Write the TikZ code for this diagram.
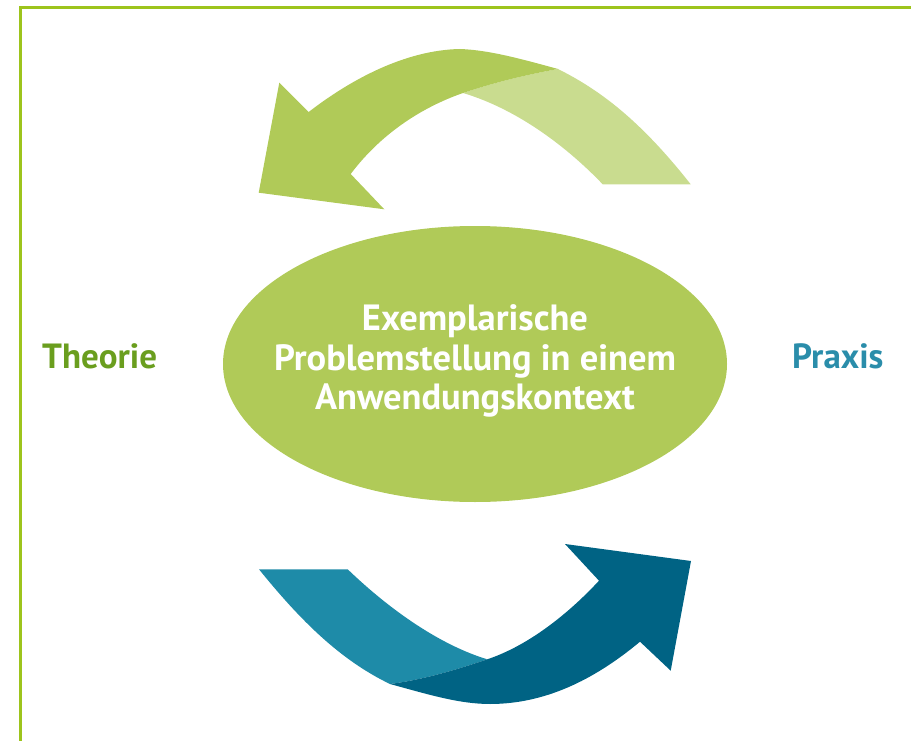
\documentclass[tikz,border=0pt]{standalone}
\usepackage{fontspec}
\setmainfont{PT Sans}
\definecolor{framegreen}{HTML}{9DC41C}
\definecolor{ellgreen}{HTML}{B0CA58}
\definecolor{lightgreen}{HTML}{C9DC8F}
\definecolor{textgreen}{HTML}{6A9E1E}
\definecolor{teallight}{HTML}{1E8BA8}
\definecolor{tealdark}{HTML}{006384}
\definecolor{praxisblue}{HTML}{2A8DAA}
\tikzset{
  frameline/.style={draw=framegreen, line width=3pt},
  darkgreenarrow/.style={fill=ellgreen, draw=none},
  lightgreenband/.style={fill=lightgreen, draw=none},
  lighttealband/.style={fill=teallight, draw=none},
  darktealarrow/.style={fill=tealdark, draw=none},
  centerell/.style={ellipse, fill=ellgreen, minimum width=504pt, minimum height=276pt, inner sep=0pt},
  sidelabel/.style={font=\fontsize{35}{40}\selectfont\bfseries, inner sep=0pt, anchor=base west}
}
\usetikzlibrary{shapes.geometric}
\begin{document}
\begin{tikzpicture}[x=1pt, y=-1pt]
\useasboundingbox (0,0) rectangle (911,741);
% frame
\draw[frameline] (20.5,741) -- (20.5,7.5) -- (911,7.5);
% top arrow: light band
\path[lightgreenband] (463,93) .. controls (490,84) and (520,76) .. (558,69)
  .. controls (600,90) and (640,120) .. (690.7,184.3) -- (602.7,184.3)
  .. controls (570,150) and (520,110) .. (463,93) -- cycle;
% top arrow: dark part with head
\path[darkgreenarrow] (308.7,112) .. controls (350,80) and (405,50) .. (460,49)
  .. controls (490,50) and (525,60) .. (558,69)
  .. controls (520,76) and (490,84) .. (463,93)
  .. controls (420,108) and (380,135) .. (350.7,174)
  -- (384.3,209.3) -- (258.7,192.7) -- (279.3,82.7) -- cycle;
% ellipse
\node[centerell] (center) at (475,364) {};
\node[align=center, text=white, font=\fontsize{36.5}{39.5}\selectfont\bfseries] (centertext) at (475,361)
  {Exemplarische\\Problemstellung in einem\\Anwendungskontext};
% side labels
\node[sidelabel, text=textgreen] (theorie) at (42,368) {Theorie};
\node[sidelabel, text=praxisblue] (praxis) at (792,368) {Praxis};
% bottom arrow: light band
\path[lighttealband] (259,569.3) -- (347.7,569.3)
  .. controls (390,610) and (440,645) .. (487.3,659.3)
  .. controls (450,672) and (420,680) .. (390,684)
  .. controls (340,660) and (300,620) .. (259,569.3) -- cycle;
% bottom arrow: dark part with head
\path[darktealarrow] (390,684) .. controls (430,695) and (460,704) .. (490,704)
  .. controls (550,704) and (600,675) .. (640,641.7)
  -- (670.7,670.7) -- (691,561) -- (565,544) -- (599,580.7)
  .. controls (570,612) and (530,645) .. (487.3,659.3)
  .. controls (450,672) and (420,680) .. (390,684) -- cycle;
\end{tikzpicture}
\end{document}
